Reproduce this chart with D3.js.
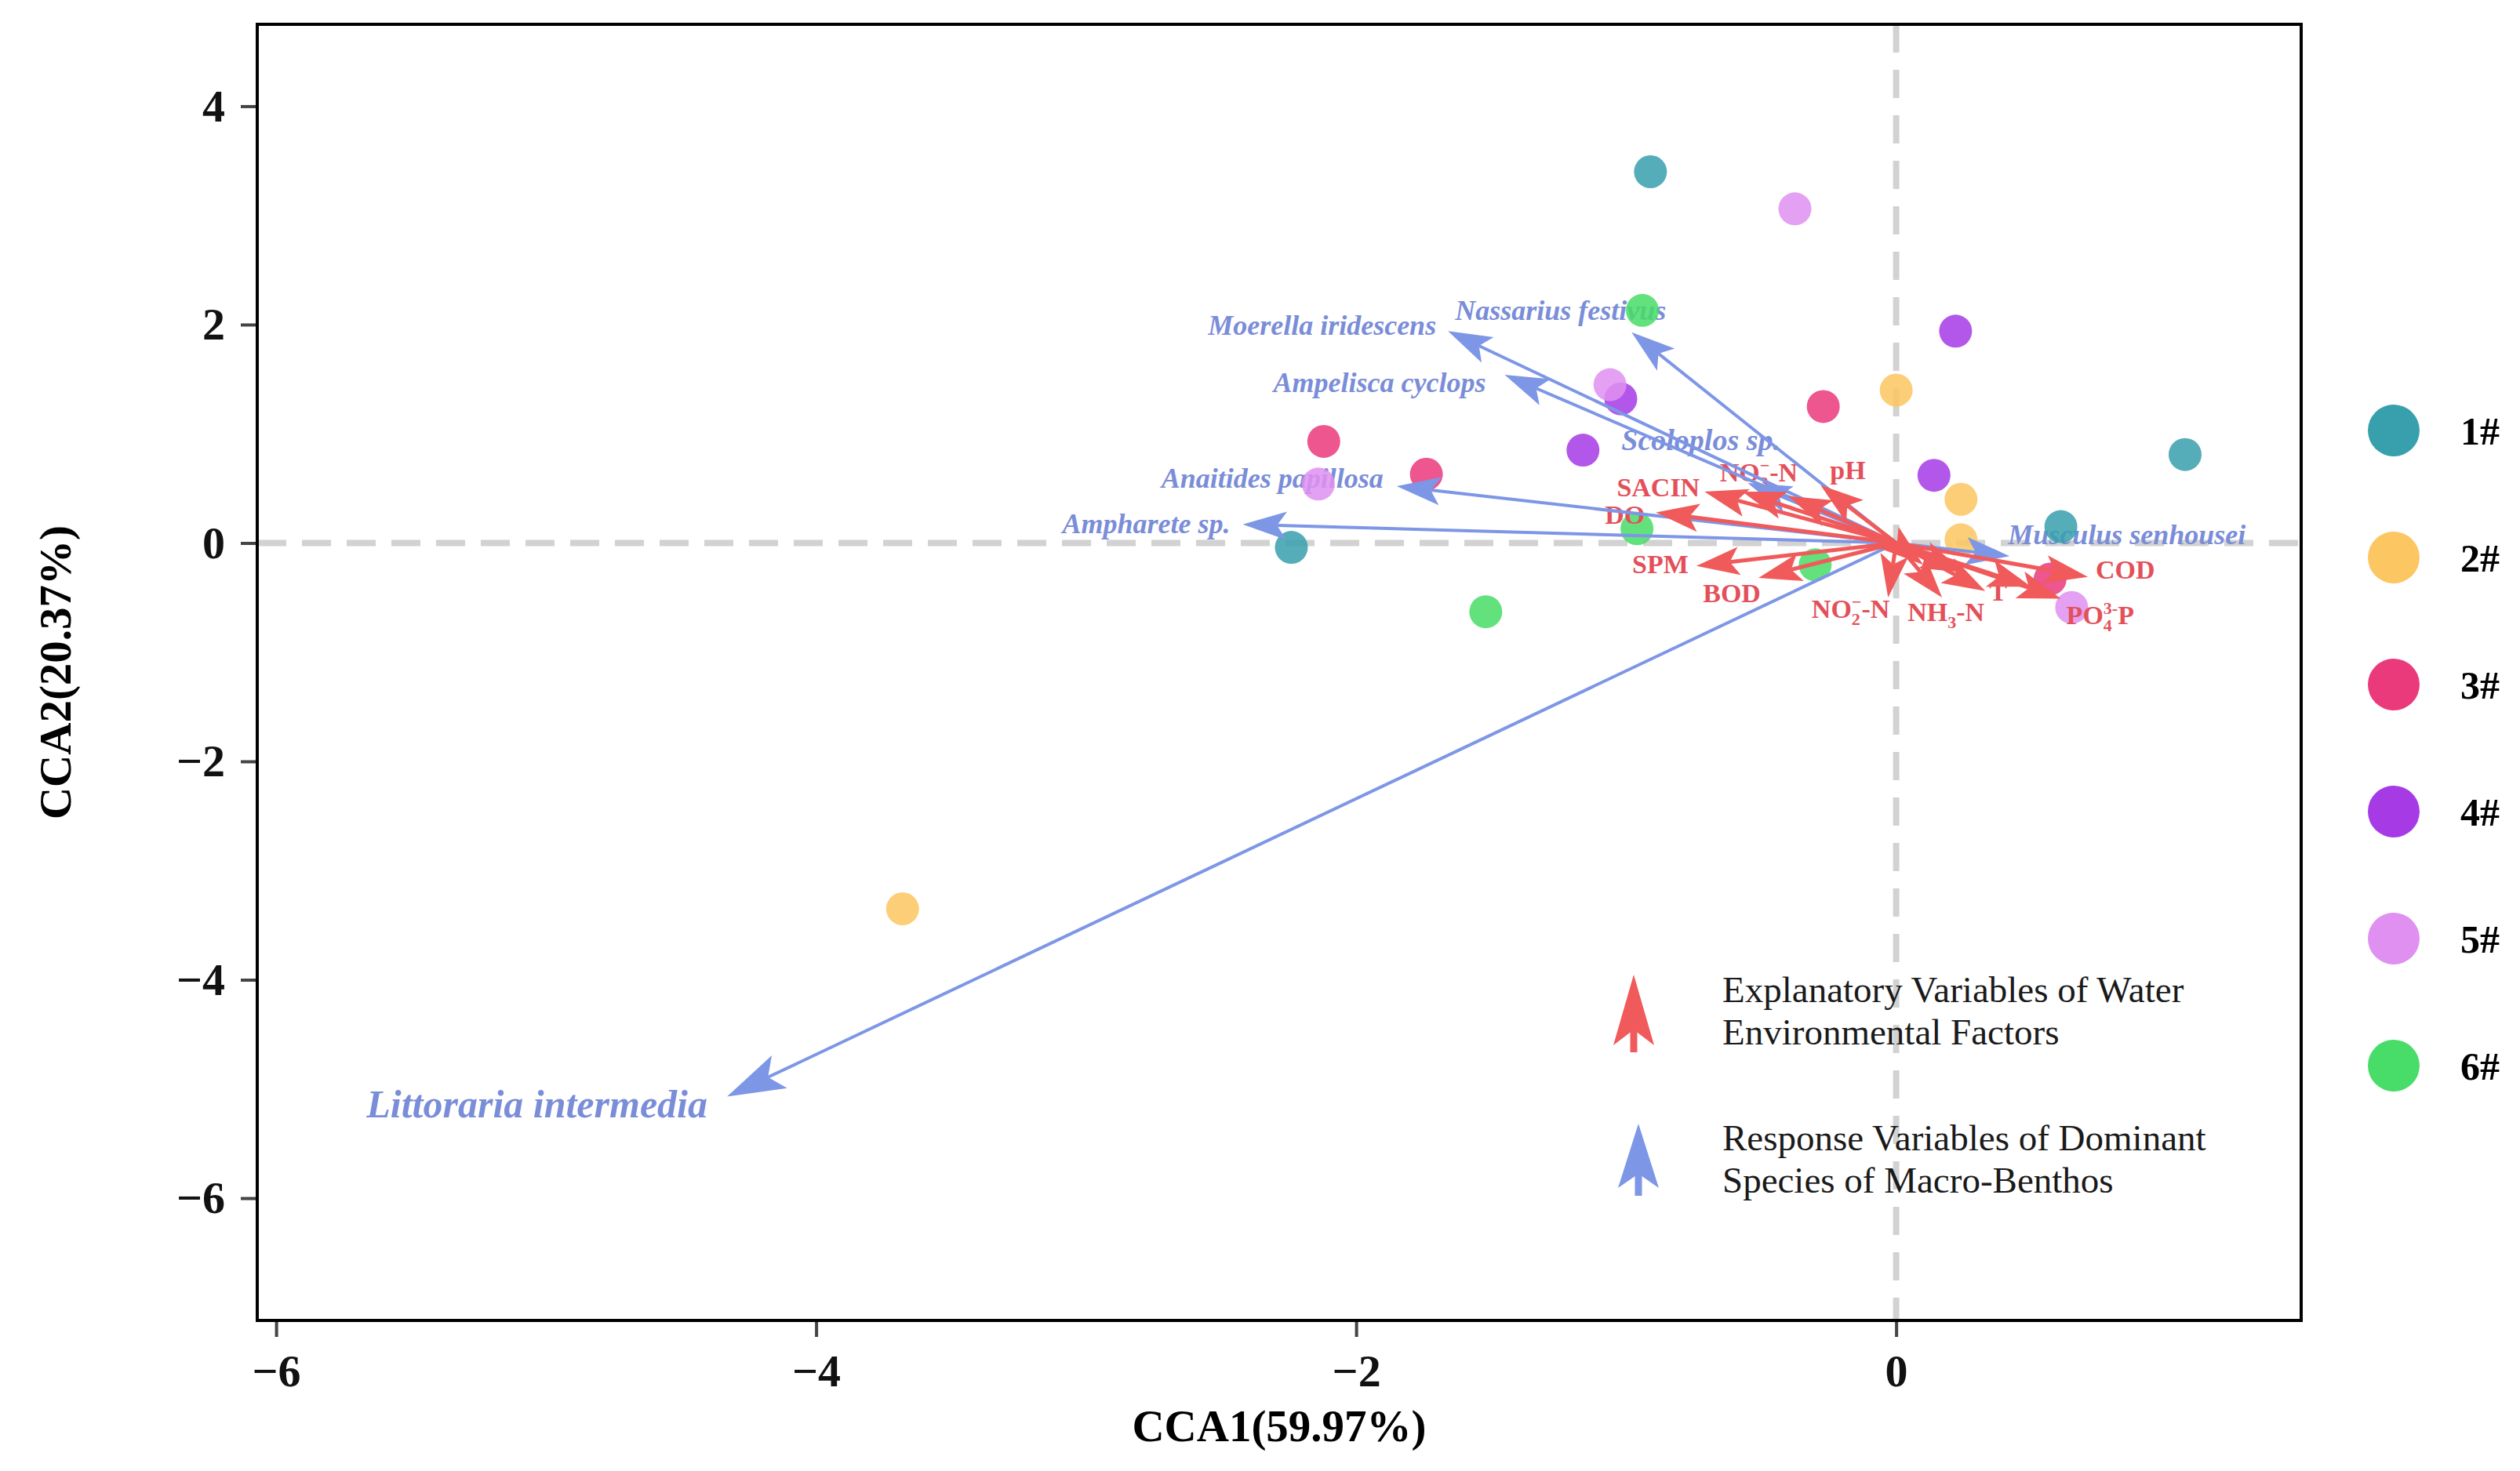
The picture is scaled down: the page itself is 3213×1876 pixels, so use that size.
<!DOCTYPE html>
<html lang="en">

<head>
  <meta charset="UTF-8" />
  <title>CCA biplot</title>
  <script src="https://d3js.org/d3.v7.min.js"></script>
  <style>
    * {
      margin: 0;
      padding: 0;
      box-sizing: border-box;
    }

    body {
      background: #fff;
    }

    text {
      font-family: "Liberation Serif", "Times New Roman", serif;
    }
  </style>
</head>

<body>
  <script>
    //data
    const siteNames = ['1#', '2#', '3#', '4#', '5#', '6#'];
    const siteColors = ['#38a0ac', '#fcc662', '#ea3a7c', '#a63be6', '#df90f0', '#48dc68'];
    const siteCCA1 = [
      [-0.91, 1.07, 0.61, -2.24],
      [0.0, 0.24, 0.24, -3.68],
      [-2.12, -1.74, -0.27, 0.57],
      [0.22, -1.16, 0.14, -1.02],
      [-0.375, -1.06, -2.14, 0.65],
      [-0.94, -0.96, -0.30, -1.52]
    ];
    const siteCCA2 = [
      [3.40, 0.81, 0.15, -0.04],
      [1.40, 0.40, 0.03, -3.35],
      [0.93, 0.63, 1.25, -0.33],
      [1.94, 0.85, 0.62, 1.32],
      [3.06, 1.45, 0.54, -0.59],
      [2.13, 0.13, -0.20, -0.63]
    ];

    const speciesNames = ['Littoraria intermedia', 'Ampharete sp.', 'Anaitides papillosa', 'Ampelisca cyclops',
      'Moerella iridescens', 'Nassarius festivus', 'Scoloplos sp.', 'Musculus senhousei'];
    const speciesCCA1 = [-4.33, -2.42, -1.85, -1.45, -1.66, -0.98, -0.55, 0.42];
    const speciesCCA2 = [-5.07, 0.17, 0.52, 1.54, 1.94, 1.93, 0.55, -0.12];

    const envNames = ['SACIN', 'NO3--N', '', 'pH', 'DO', 'SPM', 'BOD', 'NO2--N', 'NH3-N', 'T', 'PO4-P', 'COD', '', '', ''];
    const envCCA1 = [-0.71, -0.57, -0.40, -0.28, -0.89, -0.74, -0.51, -0.03, 0.17, 0.33, 0.61, 0.71, 0.10, 0.25, 0.50];
    const envCCA2 = [0.47, 0.47, 0.43, 0.53, 0.28, -0.21, -0.32, -0.50, -0.50, -0.44, -0.51, -0.31, -0.20, -0.27, -0.40];

    const xTicks = [-6, -4, -2, 0];
    const yTicks = [-6, -4, -2, 0, 2, 4];
    const xTitle = 'CCA1(59.97%)';
    const yTitle = 'CCA2(20.37%)';
    const legendLines = [['Explanatory Variables of Water', 'Environmental Factors'],
    ['Response Variables of Dominant', 'Species of Macro-Benthos']];

    //layout
    const [w, h] = [3213, 1876];
    const [pLeft, pRight, pTop, pBottom] = [328, 2934, 31, 1684];
    const blue = '#7d96e6', blueText = '#7a8dd8', red = '#f05a5a', redText = '#e4505a';

    // label placement: [dx, dy, anchor] from arrow tip, in px
    const speciesLabelPos = {
      'Littoraria intermedia': [-25, 26, 'end'],
      'Ampharete sp.': [-16, 11, 'end'],
      'Anaitides papillosa': [-17, 2, 'end'],
      'Ampelisca cyclops': [-24, 22, 'end'],
      'Moerella iridescens': [-15, 5, 'end'],
      'Nassarius festivus': [-225, -16, 'start'],
      'Scoloplos sp.': [-161, -42, 'start'],
      'Musculus senhousei': [-2, -15, 'start']
    };
    const envLabelPos = {
      'SACIN': [-6, 6, 'end'],
      'NO3--N': [21, -13, 'middle'],
      'pH': [12, -8, 'start'],
      'DO': [-14, 15, 'end'],
      'SPM': [-10, 9, 'end'],
      'BOD': [-34, 31, 'middle'],
      'NO2--N': [2, 26, 'end'],
      'NH3-N': [5, 30, 'middle'],
      'T': [5, 12, 'start'],
      'PO4-P': [7, 32, 'start'],
      'COD': [10, 2, 'start']
    };
    // pieces with sub/superscripts (1 = sub, -1 = sup stacked over the sub)
    const richLabels = {
      'NO3--N': [['NO', 0], ['3', 1], ['−', -1], ['-N', 0]],
      'NO2--N': [['NO', 0], ['2', 1], ['−', -1], ['-N', 0]],
      'NH3-N': [['NH', 0], ['3', 1], ['-N', 0]],
      'PO4-P': [['PO', 0], ['4', 1], ['3-', -1], ['P', 0]]
    };

    const svg = d3.select('body')
      .append('svg')
      .attr('width', w)
      .attr('height', h);

    //scales
    const xScale = d3.scaleLinear().domain([-6.07, 1.50]).range([pLeft, pRight]);
    const yScale = d3.scaleLinear().domain([-7.12, 4.75]).range([pBottom, pTop]);

    //axes
    const xAxis = d3.axisBottom(xScale).tickValues(xTicks).tickSize(21).tickPadding(22);
    const yAxis = d3.axisLeft(yScale).tickValues(yTicks).tickSize(21).tickPadding(20);

    const gx = svg.append('g')
      .attr('transform', `translate(0, ${pBottom})`)
      .call(xAxis);
    const gy = svg.append('g')
      .attr('transform', `translate(${pLeft}, 0)`)
      .call(yAxis);
    [gx, gy].forEach(g => {
      g.select('.domain').remove();
      g.selectAll('.tick line').attr('stroke', '#444').attr('stroke-width', 4);
      g.selectAll('.tick text')
        .attr('fill', '#111')
        .style('font-size', '58px')
        .style('font-weight', 'bold')
        .style('font-family', '"Liberation Serif", serif');
    });

    //axis titles
    svg.append('text')
      .attr('x', (pLeft + pRight) / 2)
      .attr('y', 1838)
      .attr('text-anchor', 'middle')
      .style('font-size', '57px')
      .style('font-weight', 'bold')
      .text(xTitle);

    svg.append('text')
      .attr('transform', `translate(90, ${(pTop + pBottom) / 2}) rotate(-90)`)
      .attr('text-anchor', 'middle')
      .style('font-size', '57px')
      .style('font-weight', 'bold')
      .text(yTitle);

    //dashed zero lines
    svg.append('line')
      .attr('x1', pLeft).attr('x2', pRight)
      .attr('y1', yScale(0)).attr('y2', yScale(0))
      .attr('stroke', '#d2d2d2').attr('stroke-width', 8).attr('stroke-dasharray', '37,20');
    svg.append('line')
      .attr('x1', xScale(0)).attr('x2', xScale(0))
      .attr('y1', pTop).attr('y2', pBottom)
      .attr('stroke', '#d2d2d2').attr('stroke-width', 8).attr('stroke-dasharray', '36,22');

    //arrow helper (stealth head)
    function arrow(g, x0, y0, x1, y1, color, len, half, lw) {
      const d = Math.hypot(x1 - x0, y1 - y0);
      const ux = (x1 - x0) / d, uy = (y1 - y0) / d;
      const px = -uy, py = ux;
      const bx = x1 - ux * len, by = y1 - uy * len;
      const nx = x1 - ux * len * 0.78, ny = y1 - uy * len * 0.78;
      g.append('line')
        .attr('x1', x0).attr('y1', y0)
        .attr('x2', nx).attr('y2', ny)
        .attr('stroke', color).attr('stroke-width', lw);
      g.append('path')
        .attr('d', `M${x1},${y1}L${bx + px * half},${by + py * half}L${nx},${ny}L${bx - px * half},${by - py * half}Z`)
        .attr('fill', color);
    }

    function richText(sel, name) {
      const parts = richLabels[name];
      if (!parts) { sel.text(name); return; }
      let shift = 0;
      parts.forEach(p => {
        const target = p[1] === 1 ? 9 : (p[1] === -1 ? -13 : 0);
        const t = sel.append('tspan')
          .attr('dy', target - shift)
          .style('font-size', p[1] === 0 ? null : '22px')
          .text(p[0]);
        if (p[1] === -1) t.attr('dx', -11);
        shift = target;
      });
    }

    const species = speciesNames.map((n, i) => ({ name: n, x: xScale(speciesCCA1[i]), y: yScale(speciesCCA2[i]) }));
    const env = envNames.map((n, i) => ({ name: n, x: xScale(envCCA1[i]), y: yScale(envCCA2[i]) }));
    const ox = xScale(0), oy = yScale(0);

    //species labels
    svg.append('g')
      .selectAll('text')
      .data(species)
      .join('text')
      .attr('x', d => d.x + speciesLabelPos[d.name][0])
      .attr('y', d => d.y + speciesLabelPos[d.name][1])
      .attr('text-anchor', d => speciesLabelPos[d.name][2])
      .attr('fill', blueText)
      .style('font-weight', 'bold')
      .style('font-style', 'italic')
      .style('font-size', d => d.name === 'Littoraria intermedia' ? '50px' : (d.name === 'Scoloplos sp.' ? '38px' : '36px'))
      .text(d => d.name);

    //sample points
    const points = [];
    siteNames.forEach((s, i) => siteCCA1[i].forEach((v, j) => points.push({ site: i, x: v, y: siteCCA2[i][j] })));
    svg.append('g')
      .selectAll('circle')
      .data(points)
      .join('circle')
      .attr('cx', d => xScale(d.x))
      .attr('cy', d => yScale(d.y))
      .attr('r', 21)
      .attr('fill', d => siteColors[d.site])
      .attr('fill-opacity', 0.86);

    //env labels
    svg.append('g')
      .selectAll('text')
      .data(env.filter(d => d.name !== ''))
      .join('text')
      .attr('x', d => d.x + envLabelPos[d.name][0])
      .attr('y', d => d.y + envLabelPos[d.name][1])
      .attr('text-anchor', d => envLabelPos[d.name][2])
      .attr('fill', redText)
      .style('font-weight', 'bold')
      .style('font-size', '34px')
      .each(function (d) { richText(d3.select(this), d.name); });

    //species arrows
    const gs = svg.append('g');
    species.forEach(d => {
      const big = d.name === 'Littoraria intermedia';
      arrow(gs, ox, oy, d.x, d.y, blue, big ? 74 : 56, big ? 23 : 18, 4);
    });

    //env arrows
    const ge = svg.append('g');
    env.forEach(d => arrow(ge, ox, oy, d.x, d.y, red, 55, 18, 5));

    //frame
    svg.append('rect')
      .attr('x', pLeft).attr('y', pTop)
      .attr('width', pRight - pLeft).attr('height', pBottom - pTop)
      .attr('fill', 'none').attr('stroke', '#000').attr('stroke-width', 4);

    //arrow legend
    const gl = svg.append('g');
    arrow(gl, 2083, 1342, 2083, 1243, red, 90, 26, 9);
    arrow(gl, 2089, 1525, 2089, 1433, blue, 82, 26, 9);
    [[1278, 1332], [1467, 1521]].forEach((ys, k) => {
      ys.forEach((yy, m) => {
        gl.append('text')
          .attr('x', 2196)
          .attr('y', yy)
          .attr('fill', '#1a1a1a')
          .style('font-size', '47px')
          .text(legendLines[k][m]);
      });
    });

    //site legend
    const gleg = svg.append('g')
      .selectAll('g')
      .data(siteNames)
      .join('g')
      .attr('transform', (d, i) => `translate(3052, ${549 + i * 162})`);
    gleg.append('circle')
      .attr('r', 33)
      .attr('fill', (d, i) => siteColors[i]);
    gleg.append('text')
      .attr('x', 85)
      .attr('y', 18)
      .style('font-size', '50px')
      .style('font-weight', 'bold')
      .text(d => d);
  </script>
</body>

</html>
